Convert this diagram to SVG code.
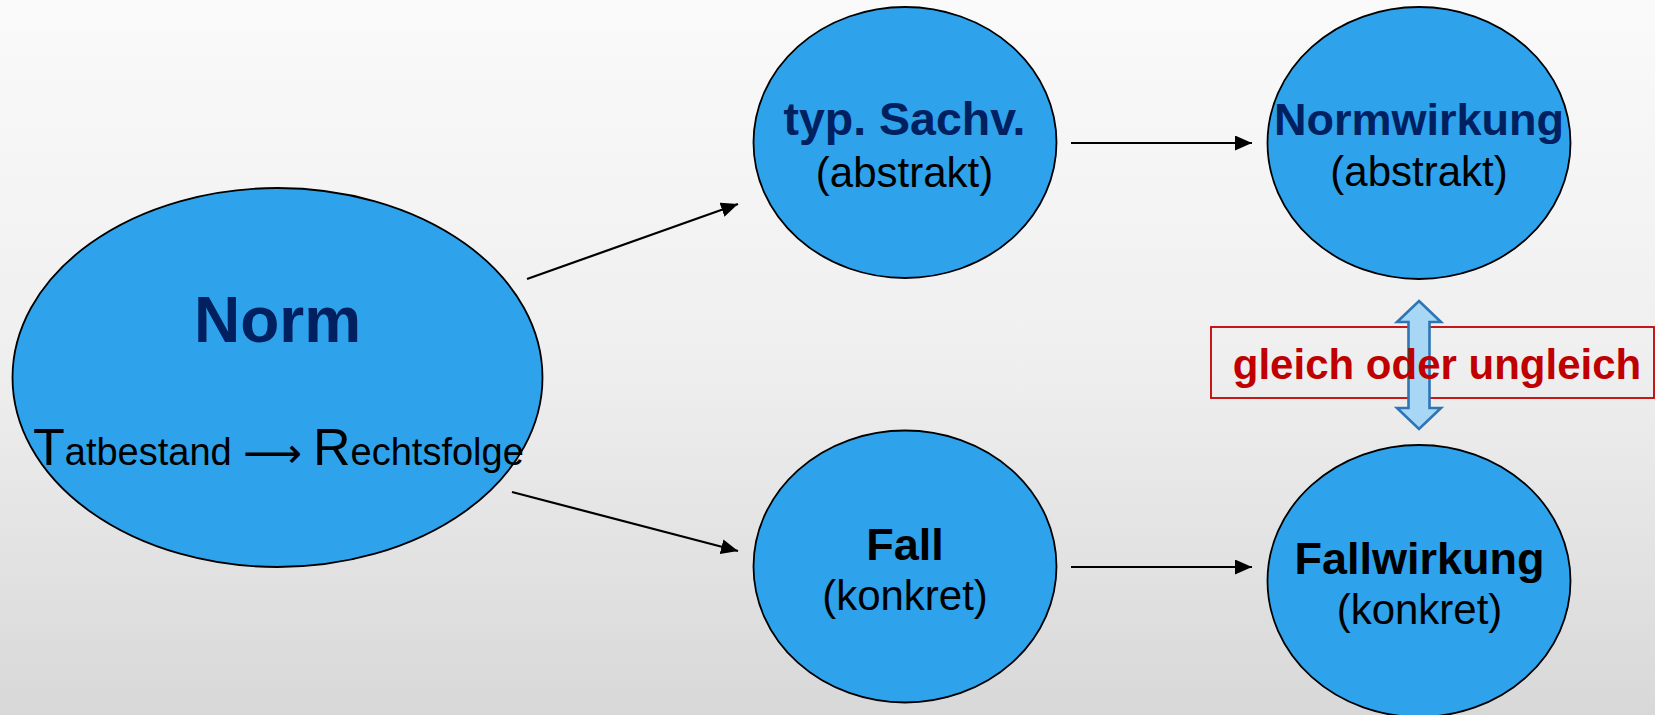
<svg xmlns="http://www.w3.org/2000/svg" width="1655" height="715" viewBox="0 0 1655 715">
  <defs>
    <linearGradient id="bg" x1="0" y1="0" x2="0" y2="1">
      <stop offset="0" stop-color="#FAFAFA"/>
      <stop offset="0.5" stop-color="#EFEFEF"/>
      <stop offset="1" stop-color="#D8D8D8"/>
    </linearGradient>
    <marker id="arr" markerUnits="userSpaceOnUse" markerWidth="17" markerHeight="15" refX="17" refY="7.5" orient="auto">
      <path d="M0,0 L17,7.5 L0,15 z" fill="#000"/>
    </marker>
    <style>
      .node { fill: #2FA2EC; stroke: #000; stroke-width: 1.8; }
      .t { font-family: "Liberation Sans", Arial, sans-serif; text-anchor: middle; }
      .b { font-weight: bold; font-size: 45px; }
      .navy { fill: #002060; }
      .blk { fill: #000; }
      .r { font-size: 42px; fill: #000; }
      .conn { stroke: #000; stroke-width: 2.2; fill: none; marker-end: url(#arr); }
    </style>
  </defs>
  <rect x="0" y="0" width="1655" height="715" fill="url(#bg)"/>

  <g id="connectors">
    <line class="conn" x1="527" y1="279" x2="738" y2="204"/>
    <line class="conn" x1="512" y1="492" x2="738" y2="551"/>
    <line class="conn" x1="1071" y1="143" x2="1252" y2="143"/>
    <line class="conn" x1="1071" y1="567" x2="1252" y2="567"/>
  </g>

  <g id="norm">
    <ellipse class="node" cx="277.5" cy="377.5" rx="265" ry="189.5"/>
    <text class="t navy" x="277.5" y="342" font-size="64" font-weight="bold">Norm</text>
    <text font-family="Liberation Sans, Arial, sans-serif" fill="#000" x="33" y="465"><tspan font-size="52">T</tspan><tspan font-size="38">atbestand</tspan><tspan x="243" y="467" font-size="41" font-family="DejaVu Sans, sans-serif">⟶</tspan><tspan x="313" y="465" font-size="52">R</tspan><tspan font-size="38">echtsfolge</tspan></text>
  </g>

  <g id="typ-sachv">
    <ellipse class="node" cx="905" cy="142.5" rx="151.5" ry="135.5"/>
    <text class="t b navy" x="904.5" y="135" style="font-size:46.5px">typ. Sachv.</text>
    <text class="t r" x="904.5" y="187">(abstrakt)</text>
  </g>

  <g id="normwirkung">
    <ellipse class="node" cx="1419" cy="143" rx="151.5" ry="136"/>
    <text class="t b navy" x="1419" y="135">Normwirkung</text>
    <text class="t r" x="1419" y="186">(abstrakt)</text>
  </g>

  <g id="fall">
    <ellipse class="node" cx="905" cy="566.5" rx="151.5" ry="136"/>
    <text class="t b blk" x="905" y="560">Fall</text>
    <text class="t r" x="905" y="610">(konkret)</text>
  </g>

  <g id="fallwirkung">
    <ellipse class="node" cx="1419" cy="581" rx="151.5" ry="136"/>
    <text class="t b blk" x="1419.5" y="574">Fallwirkung</text>
    <text class="t r" x="1419.5" y="624">(konkret)</text>
  </g>

  <g id="gleich-oder-ungleich">
    <rect x="1211" y="327" width="443" height="71" fill="none" stroke="#C00000" stroke-width="1.8"/>
    <polygon points="1419,301 1441,322 1429.5,322 1429.5,408 1441,408 1419,429 1397,408 1408.5,408 1408.5,322 1397,322" fill="#A8D6F5" stroke="#2E75B6" stroke-width="2.6" stroke-linejoin="miter"/>
    <text class="t" x="1437" y="379" font-size="42" font-weight="bold" fill="#C00000">gleich oder ungleich</text>
  </g>
</svg>
